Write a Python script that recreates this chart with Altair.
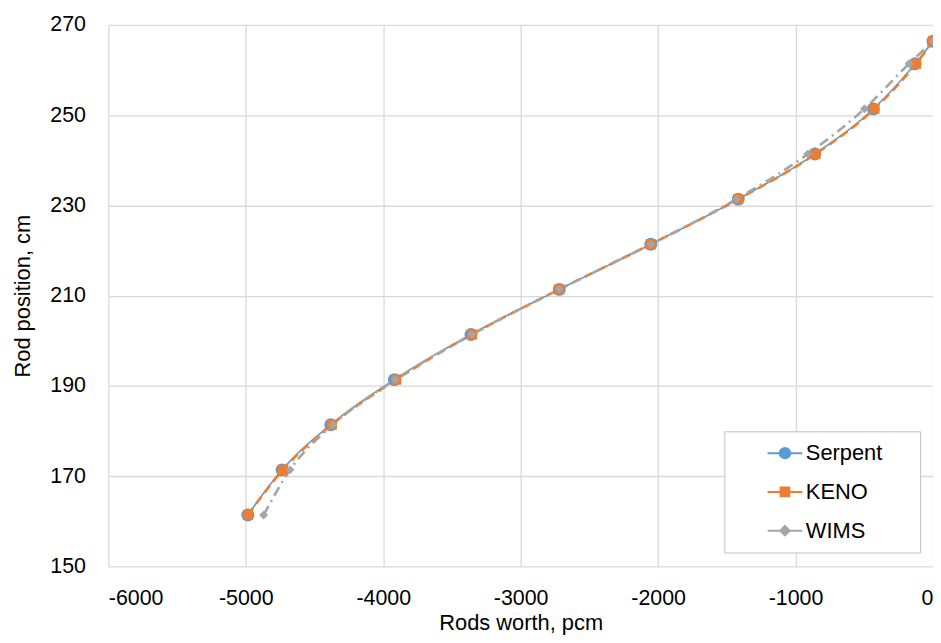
import altair as alt
import pandas as pd

positions = [161.4, 171.4, 181.4, 191.4, 201.4, 211.4, 221.4, 231.4, 241.4, 251.4, 261.4, 266.4]
serpent = [-4985, -4736, -4382, -3919, -3362, -2719, -2053, -1417, -860, -434, -130, 0]
keno = [-4985, -4730, -4375, -3905, -3355, -2719, -2053, -1417, -855, -427, -123, 0]
wims = [-4870, -4678, -4367, -3912, -3355, -2719, -2053, -1430, -911, -499, -174, 0]
series = ["Serpent", "KENO", "WIMS"]
colors = ["#5B9BD5", "#ED7D31", "#A5A5A5"]

rows = []
for name, vals in zip(series, [serpent, keno, wims]):
    for p, v in zip(positions, vals):
        rows.append({"series": name, "worth": v, "pos": p})
df = pd.DataFrame(rows)

FONT = "Liberation Sans"
xs = alt.Scale(domain=[-6000, 0], nice=False)
ys = alt.Scale(domain=[150, 270], nice=False)
X = alt.X("worth:Q", scale=xs, axis=alt.Axis(values=list(range(-6000, 1, 1000)),
                                             labelExpr="datum.value + ''", title="Rods worth, pcm"))
Y = alt.Y("pos:Q", scale=ys, axis=alt.Axis(values=list(range(150, 271, 20)),
                                           labelExpr="datum.value + ''", title="Rod position, cm"))

styles = {
    "Serpent": dict(dash=[1, 0], width=1.6, shape="circle", size=170),
    "KENO": dict(dash=[9, 5], width=2.6, shape="square", size=105),
    "WIMS": dict(dash=[10, 5, 2, 5], width=2.6, shape="diamond", size=80),
}
lines, points = [], []
for name, col in zip(series, colors):
    st = styles[name]
    sub = alt.Chart(df).transform_filter(alt.datum.series == name)
    lines.append(sub.mark_line(color=col, strokeWidth=st["width"], strokeDash=st["dash"],
                               interpolate="monotone").encode(x=X, y=Y, order="pos:Q"))
    points.append(sub.mark_point(filled=True, color=col, shape=st["shape"], size=st["size"],
                                 opacity=1).encode(x=X, y=Y))

circle = "M-2,0H2M-0.6,0A0.6,0.6,0,1,0,0.6,0A0.6,0.6,0,1,0,-0.6,0Z"
square = "M-2,0H2M-0.5,-0.5H0.5V0.5H-0.5Z"
diamond = "M-2,0H2M0,-0.55L0.55,0L0,0.55L-0.55,0Z"

leg = alt.Legend(title=" ", titleOrient="right", titlePadding=27, titleFontSize=10,
                 orient="none", legendX=620, legendY=409,
                 strokeColor="#BFBFBF", fillColor="white", padding=11,
                 labelFont=FONT, labelFontSize=22, labelColor="#000000",
                 symbolSize=306, symbolStrokeWidth=2, symbolOpacity=1,
                 symbolOffset=39, labelOffset=10, rowPadding=17)
sc = alt.Scale(domain=series, range=colors)
legend_layer = alt.Chart(df).mark_point(filled=True, size=0, strokeWidth=0).encode(
    x=X, y=Y,
    fill=alt.Fill("series:N", scale=sc, legend=leg),
    stroke=alt.Stroke("series:N", scale=sc, legend=leg),
    shape=alt.Shape("series:N", scale=alt.Scale(domain=series, range=[circle, square, diamond]), legend=leg),
)

chart = alt.layer(*lines, *points, legend_layer).properties(
    width=830, height=545,
    autosize=alt.AutoSizeParams(type="none"),
    padding={"left": 101, "top": 15, "right": 0, "bottom": 70},
).configure_view(stroke=None).configure_axis(
    grid=True, gridColor="#D9D9D9", gridWidth=1.3, domain=False, ticks=False,
    labelFont=FONT, labelFontSize=21.5, labelColor="#000000",
    titleFont=FONT, titleFontSize=22, titleFontWeight="normal", titleColor="#000000",
).configure_axisX(labelPadding=21, titlePadding=4).configure_axisY(labelPadding=23, titlePadding=15)

chart.save("out.html", embed_options={"renderer": "svg", "actions": False})
